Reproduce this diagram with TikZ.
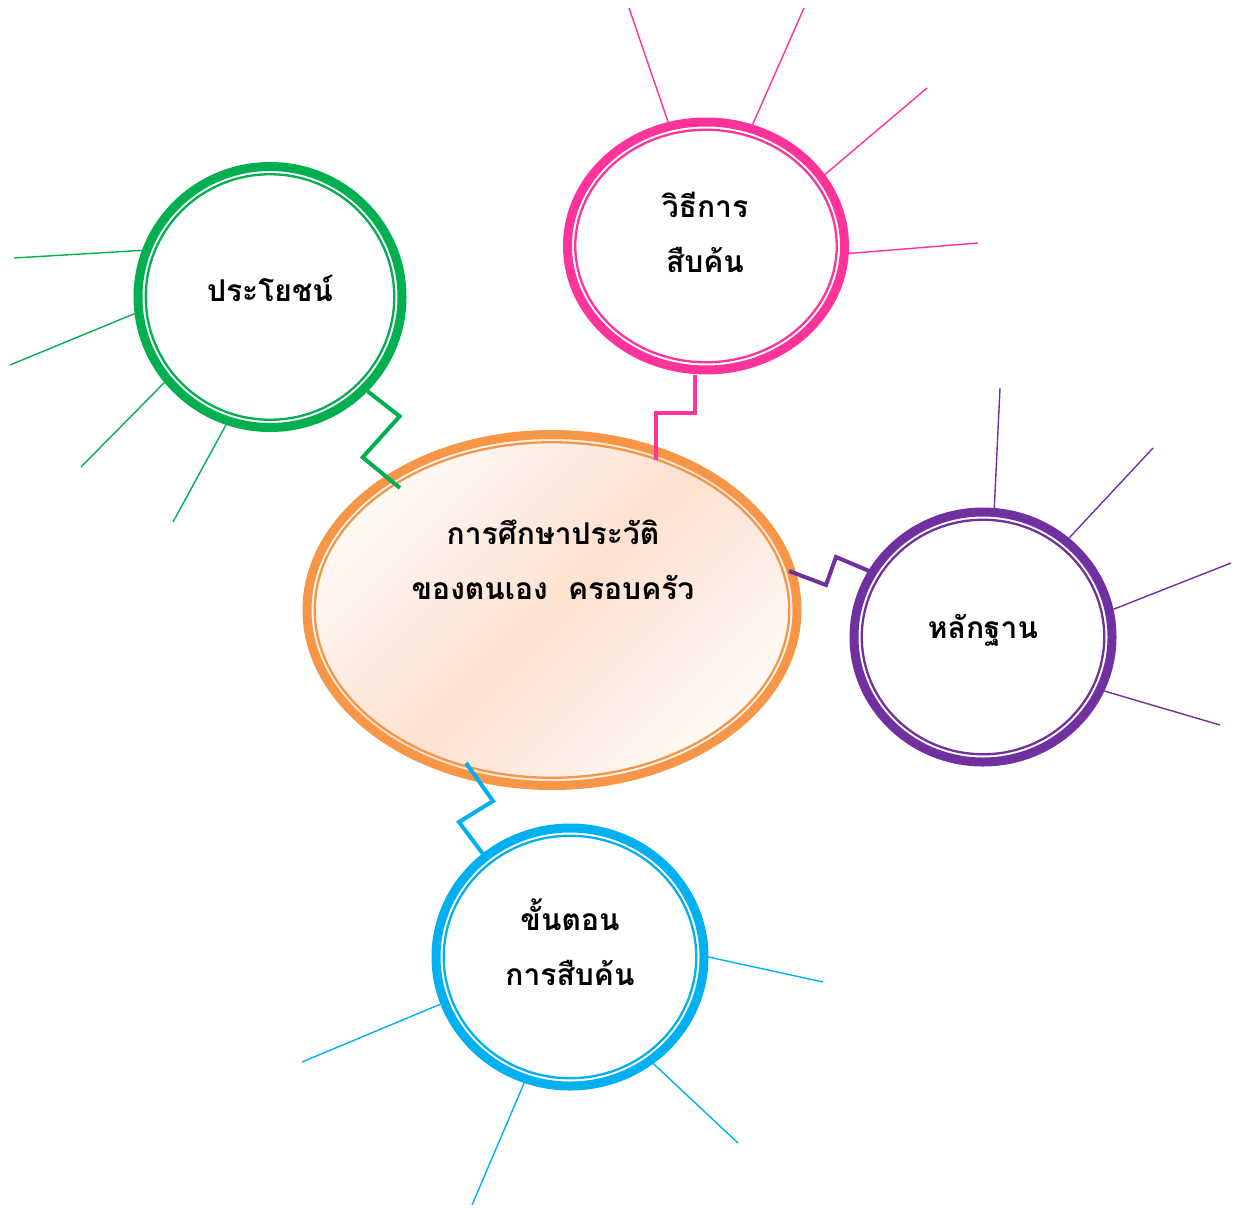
\documentclass[tikz,border=0pt]{standalone}
\usepackage{fontspec}
\newfontfamily\thaifont[Script=Thai]{Loma}
\usetikzlibrary{shapes.geometric,calc}
\definecolor{cgreen}{HTML}{00B050}
\definecolor{cpink}{HTML}{FF3399}
\definecolor{cpurple}{HTML}{7030A0}
\definecolor{cblue}{HTML}{00B0F0}
\definecolor{corange}{HTML}{F79646}
\definecolor{peach}{HTML}{FCE1D0}
\definecolor{pale}{HTML}{FFF9F6}
\begin{document}
\begin{tikzpicture}[x=1pt,y=-1pt,
  ring/.style={ellipse, draw=#1, line width=9pt, inner sep=0pt},
  inring/.style={draw=#1, line width=2.3pt},
  zz/.style={draw=#1, line width=4pt},
  ray/.style={draw=#1, line width=1.4pt},
  lbl/.style={font=\thaifont\bfseries\fontsize{30}{55}\selectfont, align=center, text=black}]
\useasboundingbox (0,0) rectangle (1233,1207);
% central ellipse
\node[ring=corange, shade, top color=pale, bottom color=pale, middle color=peach, shading angle=45,
      minimum width=490pt, minimum height=351pt] (c) at (552,610) {};
\draw[inring=corange] (c.center) ellipse [x radius=237.25pt, y radius=167.75pt];
% bubbles
\node[ring=cpink, minimum width=277pt, minimum height=248pt] (p) at (706,246) {};
\draw[inring=cpink] (p.center) ellipse [x radius=130.75pt, y radius=116.25pt];
\node[ring=cgreen, minimum width=264pt, minimum height=261pt] (g) at (270,297) {};
\draw[inring=cgreen] (g.center) ellipse [x radius=124.25pt, y radius=122.75pt];
\node[ring=cpurple, minimum width=258pt, minimum height=250pt] (h) at (983,637) {};
\draw[inring=cpurple] (h.center) ellipse [x radius=121.25pt, y radius=117.25pt];
\node[ring=cblue, minimum width=268pt, minimum height=258pt] (b) at (570,957) {};
\draw[inring=cblue] (b.center) ellipse [x radius=126.25pt, y radius=121.25pt];
% labels
\node[lbl] (ct) at (553,560) {การศึกษาประวัติ\\ของตนเอง\ \ ครอบครัว};
\node[lbl] (pt) at (705,232) {วิธีการ\\สืบค้น};
\node[lbl] (gt) at (270,288) {ประโยชน์};
\node[lbl] (ht) at (983,630) {หลักฐาน};
\node[lbl] (bt) at (570,942) {ขั้นตอน\\การสืบค้น};
% rays
\foreach \a/\x/\y [count=\i] in {160/14/258, 187/10/365, 219/81/467, 251/173/522}{
  \coordinate (gr\i) at (\x,\y); \draw[ray=cgreen] (g.\a) -- (gr\i);}
\foreach \a/\x/\y [count=\i] in {107/629/8, 69/804/8, 31/927/88, -3/978/243}{
  \coordinate (pr\i) at (\x,\y); \draw[ray=cpink] (p.\a) -- (pr\i);}
\foreach \a/\x/\y [count=\i] in {85/1000/388, 49/1153/448, 12/1231/563, -24/1220/725}{
  \coordinate (hr\i) at (\x,\y); \draw[ray=cpurple] (h.\a) -- (hr\i);}
\foreach \a/\x/\y [count=\i] in {0/823/982, 200/302/1062, 250/472/1205, -52/738/1143}{
  \coordinate (br\i) at (\x,\y); \draw[ray=cblue] (b.\a) -- (br\i);}
% zigzag connectors
\draw[zz=cgreen] (g.-44) -- ++(32,25) -- ++(-37,41) -- ($(c.center)+(-152,-122)$);
\draw[zz=cpink] ($(p.south)+(-11,0)$) -- ++(0,38) -- ++(-39,0) -- ($(c.center)+(104,-150)$);
\draw[zz=cpurple] ($(c.center)+(237,-39)$) -- ++(37,14) -- ++(10,-28) -- ($(h.center)+(-109,-64)$);
\draw[zz=cblue] ($(c.center)+(-86,153)$) -- ++(27,38) -- ++(-34,21) -- ($(b.center)+(-84,-99)$);
\end{tikzpicture}
\end{document}
